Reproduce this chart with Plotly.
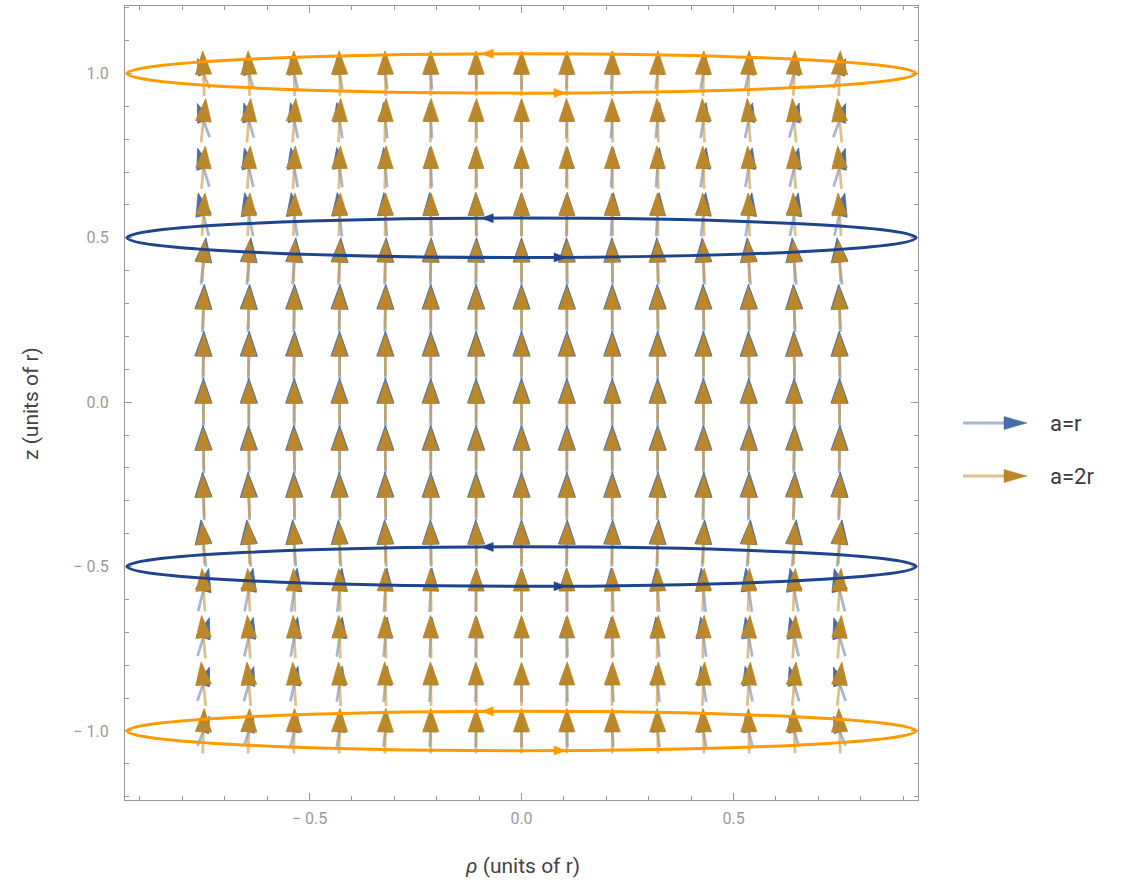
import math
import plotly.graph_objects as go

# ---------------- data ----------------
rho_vals = [-0.75, -0.643, -0.536, -0.429, -0.321, -0.214, -0.107, 0.0,
            0.107, 0.214, 0.321, 0.429, 0.536, 0.643, 0.75]
z_vals = [-1.0, -0.857, -0.714, -0.571, -0.429, -0.286, -0.143, 0.0,
          0.143, 0.286, 0.429, 0.571, 0.714, 0.857, 1.0]

series_names = ["a=r", "a=2r"]

# arrow tilt in degrees (clockwise from vertical), rows follow z_vals, columns rho_vals
tilt_a_r = [
    [22, 17, 13, 10, 7, 4, 2, 0, -2, -4, -7, -10, -13, -17, -22],
    [20, 16, 12, 9, 6, 4, 2, 0, -2, -4, -6, -9, -12, -16, -20],
    [17, 13, 10, 8, 5, 3, 2, 0, -2, -3, -5, -8, -10, -13, -17],
    [14, 11, 8, 6, 4, 3, 1, 0, -1, -3, -4, -6, -8, -11, -14],
    [-6, -5, -4, -3, -2, -1, -1, 0, 1, 1, 2, 3, 4, 5, 6],
    [-2, -2, -1, -1, -1, 0, 0, 0, 0, 0, 1, 1, 1, 2, 2],
    [-1, -1, -1, 0, 0, 0, 0, 0, 0, 0, 0, 0, 1, 1, 1],
    [0, 0, 0, 0, 0, 0, 0, 0, 0, 0, 0, 0, 0, 0, 0],
    [1, 1, 1, 0, 0, 0, 0, 0, 0, 0, 0, 0, -1, -1, -1],
    [2, 2, 1, 1, 1, 0, 0, 0, 0, 0, -1, -1, -1, -2, -2],
    [6, 5, 4, 3, 2, 1, 1, 0, -1, -1, -2, -3, -4, -5, -6],
    [-14, -11, -8, -6, -4, -3, -1, 0, 1, 3, 4, 6, 8, 11, 14],
    [-17, -13, -10, -8, -5, -3, -2, 0, 2, 3, 5, 8, 10, 13, 17],
    [-20, -16, -12, -9, -6, -4, -2, 0, 2, 4, 6, 9, 12, 16, 20],
    [-22, -17, -13, -10, -7, -4, -2, 0, 2, 4, 7, 10, 13, 17, 22],
]
tilt_a_2r = [
    [2, 2, 1, 1, 1, 0, 0, 0, 0, 0, -1, -1, -1, -2, -2],
    [-6, -5, -4, -3, -2, -1, -1, 0, 1, 1, 2, 3, 4, 5, 6],
    [-5, -4, -3, -2, -2, -1, -1, 0, 1, 1, 2, 2, 3, 4, 5],
    [-4, -3, -2, -2, -1, -1, 0, 0, 0, 1, 1, 2, 2, 3, 4],
    [-3, -2, -2, -1, -1, -1, 0, 0, 0, 1, 1, 1, 2, 2, 3],
    [-2, -2, -1, -1, -1, 0, 0, 0, 0, 0, 1, 1, 1, 2, 2],
    [-1, -1, -1, 0, 0, 0, 0, 0, 0, 0, 0, 0, 1, 1, 1],
    [0, 0, 0, 0, 0, 0, 0, 0, 0, 0, 0, 0, 0, 0, 0],
    [1, 1, 1, 0, 0, 0, 0, 0, 0, 0, 0, 0, -1, -1, -1],
    [2, 2, 1, 1, 1, 0, 0, 0, 0, 0, -1, -1, -1, -2, -2],
    [3, 2, 2, 1, 1, 1, 0, 0, 0, -1, -1, -1, -2, -2, -3],
    [4, 3, 2, 2, 1, 1, 0, 0, 0, -1, -1, -2, -2, -3, -4],
    [5, 4, 3, 2, 2, 1, 1, 0, -1, -1, -2, -2, -3, -4, -5],
    [6, 5, 4, 3, 2, 1, 1, 0, -1, -1, -2, -3, -4, -5, -6],
    [-2, -2, -1, -1, -1, 0, 0, 0, 0, 0, 1, 1, 1, 2, 2],
]
# relative arrow magnitude per row (arrow length in px as drawn)
mag_a_r = [32, 36, 40, 44, 47, 48, 48, 48, 48, 48, 47, 44, 40, 36, 32]
mag_a_2r = [45, 44, 43, 43, 42, 42, 42, 42, 42, 42, 42, 43, 43, 44, 45]

coil_z_a_r = [-0.5, 0.5]
coil_z_a_2r = [-1.0, 1.0]
coil_half_width = 0.93
coil_half_height = 0.06

x_tickvals = [-0.5, 0.0, 0.5]
x_ticktext = ["\u2212 0.5", "0.0", "0.5"]
y_tickvals = [-1.0, -0.5, 0.0, 0.5, 1.0]
y_ticktext = ["\u2212 1.0", "\u2212 0.5", "0.0", "0.5", "1.0"]

# ---------------- layout constants ----------------
W, H = 1122, 886
ML, MR, MT, MB = 125, 204, 6, 86
PW, PH = W - ML - MR, H - MT - MB
XR = [-0.935, 0.935]
YR = [-1.21, 1.205]
SX = PW / (XR[1] - XR[0])
SY = PH / (YR[1] - YR[0])

BLUE_HEAD = "#4a6ca6"
BLUE_SHAFT = "rgba(92,122,178,0.55)"
ORANGE_HEAD = "#ba872b"
ORANGE_SHAFT = "rgba(200,150,60,0.6)"
BLUE_COIL = "#1f448b"
ORANGE_COIL = "#ff9a00"
AXIS_GRAY = "#9a9a9a"
FONT = "Roboto, Arial, sans-serif"


def arrows(tilts, mags):
    sx_, sy_, hx, hy = [], [], [], []
    for i, z in enumerate(z_vals):
        L = mags[i]
        for j, r in enumerate(rho_vals):
            th = math.radians(tilts[i][j])
            ux, uy = math.sin(th), math.cos(th)
            px_, py_ = math.cos(th), -math.sin(th)
            tail = (r - ux * L / 2 / SX, z - uy * L / 2 / SY)
            tip = (r + ux * L / 2 / SX, z + uy * L / 2 / SY)
            hl, hw = 0.52 * L, 0.36 * L
            base = (tip[0] - ux * hl / SX, tip[1] - uy * hl / SY)
            c1 = (base[0] + px_ * hw / 2 / SX, base[1] + py_ * hw / 2 / SY)
            c2 = (base[0] - px_ * hw / 2 / SX, base[1] - py_ * hw / 2 / SY)
            sx_ += [tail[0], base[0], None]
            sy_ += [tail[1], base[1], None]
            hx += [tip[0], c1[0], c2[0], tip[0], None]
            hy += [tip[1], c1[1], c2[1], tip[1], None]
    return sx_, sy_, hx, hy


fig = go.Figure()
for tilts, mags, shaft_c, head_c in [(tilt_a_r, mag_a_r, BLUE_SHAFT, BLUE_HEAD),
                                     (tilt_a_2r, mag_a_2r, ORANGE_SHAFT, ORANGE_HEAD)]:
    sx_, sy_, hx, hy = arrows(tilts, mags)
    fig.add_trace(go.Scatter(x=sx_, y=sy_, mode="lines", line=dict(color=shaft_c, width=2.8),
                             hoverinfo="skip", showlegend=False))
    fig.add_trace(go.Scatter(x=hx, y=hy, mode="lines", fill="toself", fillcolor=head_c,
                             line=dict(color=head_c, width=0.8),
                             hoverinfo="skip", showlegend=False))

shapes = []
for zs, col in [(coil_z_a_2r, ORANGE_COIL), (coil_z_a_r, BLUE_COIL)]:
    for zc in zs:
        shapes.append(dict(type="circle", xref="x", yref="y",
                           x0=-coil_half_width, x1=coil_half_width,
                           y0=zc - coil_half_height, y1=zc + coil_half_height,
                           line=dict(color=col, width=3), layer="above"))
        # current-direction arrowheads: left on the far edge, right on the near edge
        for tip_r, sgn in [(-0.095, -1), (0.105, 1)]:
            zz = zc + (1 if sgn < 0 else -1) * coil_half_height * math.sqrt(1 - (tip_r / coil_half_width) ** 2)
            hl, hw = 12, 9
            bx = tip_r - sgn * hl / SX
            xs = [tip_r, bx, bx, tip_r, None]
            ys = [zz, zz + hw / 2 / SY, zz - hw / 2 / SY, zz, None]
            fig.add_trace(go.Scatter(x=xs, y=ys, mode="lines", fill="toself", fillcolor=col,
                                     line=dict(color=col, width=0.5),
                                     hoverinfo="skip", showlegend=False))


def pxx(px):
    return (px - ML) / PW


def pxy(py):
    return (H - MB - py) / PH


annotations = []
for name, py, shaft_c, head_c in [(series_names[0], 423, BLUE_SHAFT, BLUE_HEAD),
                                  (series_names[1], 476, ORANGE_SHAFT, ORANGE_HEAD)]:
    shapes.append(dict(type="line", xref="paper", yref="paper", x0=pxx(963), x1=pxx(1008),
                       y0=pxy(py), y1=pxy(py), line=dict(color=shaft_c, width=2.8)))
    shapes.append(dict(type="path", xref="paper", yref="paper", xsizemode="pixel", ysizemode="pixel",
                       xanchor=pxx(1004), yanchor=pxy(py), path="M0,-6.5 L23,0 L0,6.5 Z",
                       fillcolor=head_c, line=dict(color=head_c, width=0.5)))
    annotations.append(dict(xref="paper", yref="paper", x=pxx(1048), y=pxy(py), text=name,
                            showarrow=False, xanchor="left", yanchor="middle",
                            font=dict(family=FONT, size=22, color="#3a3a3a")))

annotations.append(dict(xref="paper", yref="paper", x=pxx(31), y=pxy(404), text="z (units of r)",
                        textangle=-90, showarrow=False, xanchor="center", yanchor="middle",
                        font=dict(family=FONT, size=21, color="#444444")))
annotations.append(dict(xref="paper", yref="paper", x=pxx(522), y=pxy(866),
                        text="<i>\u03c1</i> (units of r)",
                        showarrow=False, xanchor="center", yanchor="middle",
                        font=dict(family=FONT, size=21, color="#444444")))

axis_common = dict(showline=True, linecolor=AXIS_GRAY, linewidth=1.3, mirror="allticks",
                   ticks="inside", ticklen=7, tickwidth=1, tickcolor=AXIS_GRAY,
                   showgrid=False, zeroline=False, tickmode="array",
                   tickfont=dict(family=FONT, size=16, color="#9a9a9a"),
                   minor=dict(tickmode="linear", tick0=0, dtick=0.1, ticks="inside",
                              ticklen=4, tickcolor=AXIS_GRAY, showgrid=False))

fig.update_layout(
    width=W, height=H,
    margin=dict(l=ML, r=MR, t=MT, b=MB, pad=0),
    paper_bgcolor="white", plot_bgcolor="white",
    xaxis=dict(range=XR, tickvals=x_tickvals, ticktext=x_ticktext, ticklabelstandoff=4, **axis_common),
    yaxis=dict(range=YR, tickvals=y_tickvals, ticktext=y_ticktext, ticklabelstandoff=12, **axis_common),
    shapes=shapes, annotations=annotations, showlegend=False,
)

fig.write_html("out.html")
